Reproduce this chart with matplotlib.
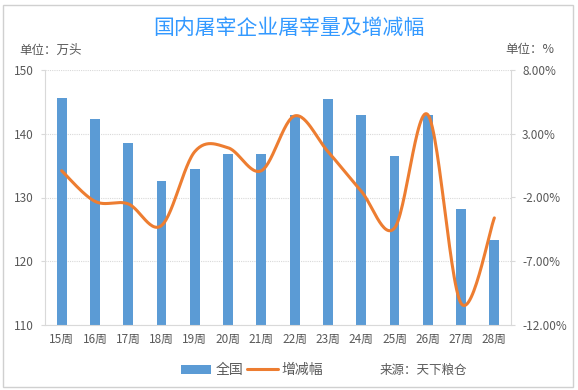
import matplotlib
matplotlib.use("Agg")
import matplotlib.pyplot as plt
import numpy as np
from matplotlib.patches import Rectangle

plt.rcParams['font.family'] = ['Noto Sans CJK SC', 'DejaVu Sans']

weeks = ['15周', '16周', '17周', '18周', '19周', '20周', '21周',
         '22周', '23周', '24周', '25周', '26周', '27周', '28周']
volume = [145.6, 142.3, 138.5, 132.6, 134.4, 136.9, 136.9,
          142.9, 145.4, 142.9, 136.5, 142.9, 128.2, 123.3]
change = [0.1, -2.3, -2.5, -4.2, 1.6, 1.9, 0.1,
          4.4, 1.6, -1.5, -4.4, 4.5, -10.3, -3.6]
left_ticks = [110, 120, 130, 140, 150]
right_ticks = [-12, -7, -2, 3, 8]

bar_c = '#5B9BD5'
line_c = '#ED7D31'
grid_c = '#D9D9D9'
text_c = '#595959'


def smooth(xs, ys, n=30):
    # Excel-style smoothed line (Catmull-Rom bezier)
    pts = np.column_stack([xs, ys]).astype(float)
    p = np.vstack([pts[0], pts, pts[-1]])
    t = np.linspace(0, 1, n)[:, None]
    out = []
    for i in range(1, len(p) - 2):
        p0, p1, p2, p3 = p[i - 1], p[i], p[i + 1], p[i + 2]
        c1 = p1 + (p2 - p0) / 6
        c2 = p2 - (p3 - p1) / 6
        seg = ((1 - t) ** 3) * p1 + 3 * ((1 - t) ** 2) * t * c1 \
            + 3 * (1 - t) * t ** 2 * c2 + t ** 3 * p2
        out.append(seg if i == 1 else seg[1:])
    out = np.vstack(out)
    return out[:, 0], out[:, 1]


fig = plt.figure(figsize=(5.78, 3.9), dpi=100)
fig.patches.append(Rectangle((3 / 578, 3 / 390), 570 / 578, 382 / 390,
                             transform=fig.transFigure, fill=False,
                             edgecolor='#D0D0D0', linewidth=1))

ax = fig.add_axes([45 / 578, 65 / 390, 466 / 578, 255 / 390])
x = np.arange(len(weeks))
ax.bar(x, volume, width=0.3, color=bar_c, zorder=2, label='全国')
ax.set_xlim(-0.5, len(weeks) - 0.5)
ax.set_ylim(110, 150)
ax.set_yticks(left_ticks)
ax.set_xticks(x)
ax.set_xticklabels(weeks)
ax.grid(axis='y', color=grid_c, linestyle=(0, (1, 1)), linewidth=0.8, zorder=0)
ax.tick_params(axis='y', length=3, color=grid_c, labelsize=8.5, labelcolor=text_c, pad=5)
ax.tick_params(axis='x', length=0, labelsize=8.5, labelcolor=text_c, pad=6)
for s in ['top', 'right']:
    ax.spines[s].set_visible(False)
ax.spines['left'].set_color(grid_c)
ax.spines['bottom'].set_color(grid_c)

ax2 = ax.twinx()
sx, sy = smooth(x, change)
ax2.plot(sx, sy, color=line_c, linewidth=2.2, solid_capstyle='round', label='增减幅')
ax2.set_ylim(-12, 8)
ax2.set_yticks(right_ticks)
ax2.set_yticklabels(['%.2f%%' % v for v in right_ticks])
ax2.tick_params(axis='y', length=3, color=grid_c, labelsize=8.5, labelcolor=text_c, pad=5)
for s in ['top', 'left', 'bottom']:
    ax2.spines[s].set_visible(False)
ax2.spines['right'].set_color(grid_c)

fig.text(289 / 578, 1 - 28 / 390, '国内屠宰企业屠宰量及增减幅', color='#3399FF',
         fontsize=15, ha='center', va='center')
fig.text(19 / 578, 1 - 50 / 390, '单位：万头', color=text_c, fontsize=9, ha='left', va='center')
fig.text(554 / 578, 1 - 50 / 390, '单位：%', color=text_c, fontsize=9, ha='right', va='center')

h1, l1 = ax.get_legend_handles_labels()
h2, l2 = ax2.get_legend_handles_labels()
fig.legend(h1 + h2, l1 + l2, loc='center', bbox_to_anchor=(252 / 578, 1 - 370 / 390),
           ncol=2, frameon=False, fontsize=10, handlelength=2.2, handleheight=0.6,
           columnspacing=0.3, handletextpad=0.3, labelcolor=text_c)
fig.text(380 / 578, 1 - 370 / 390, '来源：天下粮仓', color=text_c, fontsize=9,
         style='italic', ha='left', va='center')

fig.savefig('out.png', dpi=100)
